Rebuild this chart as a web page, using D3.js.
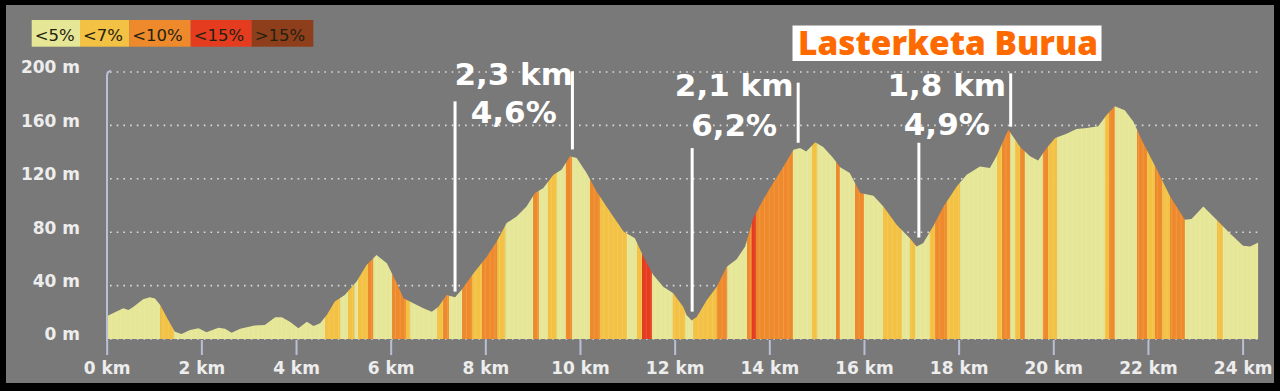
<!DOCTYPE html>
<html>
<head>
<meta charset="utf-8">
<script src="https://cdn.jsdelivr.net/npm/d3@7"></script>
<style>
  body { margin: 0; background: #000; }
  svg { display: block; }
</style>
</head>
<body>
<svg id="chart" width="1280" height="391"></svg>
<script>
// profile (km, m)
var distKm = [0.00, 0.35, 0.46, 0.56, 0.77, 0.91, 1.02, 1.13, 1.30, 1.44, 1.58, 1.76, 1.94, 2.11, 2.36, 2.50, 2.64, 2.82,
  3.10, 3.34, 3.56, 3.70, 3.87, 4.05, 4.23, 4.37, 4.51, 4.65, 4.82, 5.03, 5.28, 5.49, 5.70, 5.92, 6.13, 6.27, 6.48,
  6.69, 6.87, 7.01, 7.18, 7.36, 7.50, 7.75, 8.03, 8.24, 8.45, 8.66, 8.87, 9.05, 9.22, 9.44, 9.61, 9.79, 9.93, 10.14,
  10.35, 10.63, 10.92, 11.16, 11.34, 11.55, 11.76, 11.97, 12.18, 12.25, 12.36, 12.47, 12.68, 12.89, 13.10, 13.31,
  13.49, 13.66, 13.87, 14.08, 14.30, 14.51, 14.65, 14.78, 14.97, 15.14, 15.35, 15.49, 15.70, 15.92, 16.20, 16.41,
  16.69, 16.97, 17.11, 17.25, 17.46, 17.68, 17.96, 18.17, 18.45, 18.66, 18.80, 19.05, 19.30, 19.51, 19.68, 19.86,
  20.04, 20.28, 20.49, 20.71, 20.95, 21.13, 21.30, 21.51, 21.69, 21.90, 22.19, 22.47, 22.78, 22.92, 23.17, 23.45,
  23.73, 24.01, 24.16, 24.33];
var elevM = [17, 23, 21.7, 24, 29.8, 31.3, 30.3, 25.5, 14.2, 5.5, 3.7, 6.7, 8, 5, 8.5, 7.7, 4.7, 7.7,
  10, 10.5, 16.3, 16.3, 13, 8, 13, 9.7, 11.8, 18, 28, 33, 43, 55.5, 63, 56.8, 41.8, 30.5, 26.8,
  23, 20.5, 24.2, 33, 31.3, 36.8, 49.3, 61.7, 73, 86.8, 91.8, 99.2, 109.3, 113, 123, 126.8, 136.8, 135.5, 124.3,
  110.5, 95.5, 80.5, 75.5, 61.7, 48, 39.2, 34.3, 24.2, 18, 13.8, 16.7, 29.3, 39.2, 54.2, 59.8,
  69.2, 90.5, 104.3, 116.8, 129.3, 141.8, 143, 140.5, 147.3, 143.8, 135.5, 128.8, 124.3, 109.3, 107.3, 99.2,
  85.5, 75.5, 69.2, 71.8, 84.2, 99.2, 114.2, 123, 129.3, 128, 136.8, 156.8, 143.8, 136.8, 133.8, 143,
  150.5, 153.8, 157.3, 158, 159.3, 168, 174.3, 171.3, 163, 146.8, 126.8, 106.8, 89.3, 89.8, 99.2, 89.3,
  79.3, 69.8, 69.2, 72.2];

// gradient bands: start km and class index
var bandStartKm = [0, 1.13, 1.42, 4.61, 4.93, 5.10, 5.23, 5.31, 5.52, 5.63, 6.03, 6.32, 6.41, 6.98, 7.11, 7.23,
  7.51, 7.72, 7.93, 8.25, 8.42, 9.01, 9.13, 9.32, 9.51, 9.70, 9.83, 10.21, 10.42, 10.99, 11.20, 11.31, 11.52,
  11.96, 12.22, 12.39, 12.89, 13.11, 13.53, 13.63, 13.72, 14.50, 14.90, 15.01, 15.41, 15.49, 15.81, 16.00,
  16.40, 16.80, 16.97, 17.08, 17.39, 17.50, 17.75, 18.03, 18.81, 18.92, 19.09, 19.19, 19.30, 19.40, 19.78,
  19.89, 20.08, 21.09, 21.18, 21.30, 21.77, 21.98, 22.15, 22.30, 22.47, 22.78, 23.46, 23.58];
var bandCat = [0, 1, 0, 1, 0, 1, 0, 1, 2, 0, 2, 1, 0, 1, 2, 0,
  2, 1, 2, 1, 0, 2, 0, 1, 0, 2, 0, 2, 1, 0, 1, 3, 0,
  1, 0, 1, 2, 0, 2, 3, 2, 0, 1, 0, 2, 0, 2, 0,
  1, 0, 1, 0, 1, 2, 1, 0, 1, 2, 0, 1, 2, 0, 2,
  1, 0, 1, 2, 0, 2, 1, 2, 1, 2, 0, 1, 0];

var catLabels = ["<5%", "<7%", "<10%", "<15%", ">15%"];
var catColors = ["#e6e697", "#f3c143", "#ee8a2b", "#e53b1f", "#8e3e1b"];

var xTicks = [0, 2, 4, 6, 8, 10, 12, 14, 16, 18, 20, 22, 24];
var yTicks = [0, 40, 80, 120, 160, 200];

// climbs
var climbStartKm = [7.36, 12.37, 17.16];
var climbEndKm = [9.84, 14.61, 19.10];
var climbStartTop = [178, 143, 147];
var climbStartBottom = [35.5, 20.5, 76];
var climbEndTop = [200.5, 192, 199];
var climbEndBottom = [142, 147, 159];
var climbLen = ["2,3 km", "2,1 km", "1,8 km"];
var climbGrade = ["4,6%", "6,2%", "4,9%"];

var title = "Lasterketa Burua";

var svg = d3.select("#chart");

svg.append("rect").attr("width", 1280).attr("height", 391).attr("fill", "#000");
svg.append("rect").attr("x", 6).attr("y", 5).attr("width", 1268).attr("height", 378).attr("fill", "#797979");

var x = d3.scaleLinear().domain([0, 24]).range([106.7, 1242.6]);
var y = d3.scaleLinear().domain([0, 200]).range([339, 72]);
var color = d3.scaleOrdinal().domain(d3.range(5)).range(catColors);

// gridlines
svg.append("g").selectAll("line")
  .data(yTicks)
  .enter()
  .append("line")
  .attr("x1", 110).attr("x2", 1260)
  .attr("y1", d => y(d)).attr("y2", d => y(d))
  .attr("stroke", "#dcdcdc")
  .attr("stroke-width", 1.6)
  .attr("stroke-dasharray", "1.6 5.1");

// profile
var pts = distKm.map((d, i) => [d, elevM[i]]);
var area = d3.area()
  .x(d => x(d[0]))
  .y0(y(0))
  .y1(d => y(d[1]));

svg.append("clipPath").attr("id", "prof")
  .append("path").attr("d", area(pts));

var maxKm = distKm[distKm.length - 1];
var bands = bandStartKm.map((s, i) => ({
  s: s,
  e: i < bandStartKm.length - 1 ? bandStartKm[i + 1] : maxKm,
  c: bandCat[i]
}));

var pg = svg.append("g").attr("clip-path", "url(#prof)");
pg.selectAll("rect")
  .data(bands)
  .enter()
  .append("rect")
  .attr("x", d => x(d.s))
  .attr("width", d => x(d.e) - x(d.s) + 0.3)
  .attr("y", y(200) - 10)
  .attr("height", y(0) - y(200) + 10)
  .attr("fill", d => color(d.c));

// faint sample stripes
pg.selectAll("line")
  .data(d3.range(0, maxKm, 0.1))
  .enter()
  .append("line")
  .attr("x1", d => x(d)).attr("x2", d => x(d))
  .attr("y1", y(200)).attr("y2", y(0))
  .attr("stroke", "#fff")
  .attr("stroke-opacity", 0.13)
  .attr("stroke-width", 1);

// y axis line
svg.append("path")
  .attr("d", "M107,341 L107,76 Q107,71 111,71")
  .attr("fill", "none")
  .attr("stroke", "#b9c0d6")
  .attr("stroke-width", 2);

// x axis
var xAxis = svg.append("g")
  .attr("transform", "translate(0," + (y(0) + 1) + ")")
  .call(d3.axisBottom(x).tickValues(xTicks).tickSize(15).tickPadding(7).tickFormat(d => d + " km"));
xAxis.select(".domain").remove();
xAxis.selectAll(".tick line").attr("stroke", "#b9c0d6").attr("stroke-width", 2);
xAxis.selectAll(".tick text")
  .attr("fill", "#ededed")
  .style("font-family", "DejaVu Sans")
  .style("font-weight", "bold")
  .style("font-size", "17px");

// y axis labels
var yAxis = svg.append("g")
  .attr("transform", "translate(107,0)")
  .call(d3.axisLeft(y).tickValues(yTicks).tickSize(0).tickPadding(27).tickFormat(d => d + " m"));
yAxis.select(".domain").remove();
yAxis.selectAll(".tick text")
  .attr("dy", "0.05em")
  .attr("fill", "#ededed")
  .style("font-family", "DejaVu Sans")
  .style("font-weight", "bold")
  .style("font-size", "17px");

// legend
var legX = [31.7, 80, 129.3, 190.7, 251.7, 313.3];
var leg = svg.append("g");
catLabels.forEach((t, i) => {
  leg.append("rect")
    .attr("x", legX[i]).attr("y", 20)
    .attr("width", legX[i + 1] - legX[i]).attr("height", 26.7)
    .attr("fill", color(i));
  leg.append("text")
    .attr("x", legX[i] + 3).attr("y", 41)
    .attr("fill", "#222211")
    .style("font-family", "DejaVu Sans")
    .style("font-size", "16.5px")
    .text(t);
});

// title
svg.append("rect")
  .attr("x", 792.5).attr("y", 25.5).attr("width", 309).attr("height", 35.5)
  .attr("fill", "#fff");
svg.append("text")
  .attr("x", 798).attr("y", 55)
  .attr("textLength", 300)
  .attr("lengthAdjust", "spacingAndGlyphs")
  .attr("fill", "#ff6a00")
  .style("font-family", "Open Sans")
  .style("font-weight", "800")
  .style("font-size", "33px")
  .text(title);

// climb annotations
var labelDx = [0, -11, -18];
var labelY = [[85, 123], [96, 136], [96, 135]];
var ann = svg.append("g");
climbStartKm.forEach((s, i) => {
  ann.append("line")
    .attr("x1", x(s)).attr("x2", x(s))
    .attr("y1", y(climbStartTop[i])).attr("y2", y(climbStartBottom[i]))
    .attr("stroke", "#fff").attr("stroke-width", 3);
  ann.append("line")
    .attr("x1", x(climbEndKm[i])).attr("x2", x(climbEndKm[i]))
    .attr("y1", y(climbEndTop[i])).attr("y2", y(climbEndBottom[i]))
    .attr("stroke", "#fff").attr("stroke-width", 3);
  var cx = (x(s) + x(climbEndKm[i])) / 2 + labelDx[i];
  [climbLen[i], climbGrade[i]].forEach((t, j) => {
    ann.append("text")
      .attr("x", cx).attr("y", labelY[i][j])
      .attr("text-anchor", "middle")
      .attr("fill", "#fff")
      .style("font-family", "DejaVu Sans")
      .style("font-weight", "bold")
      .style("font-size", "31px")
      .text(t);
  });
});
</script>
</body>
</html>
